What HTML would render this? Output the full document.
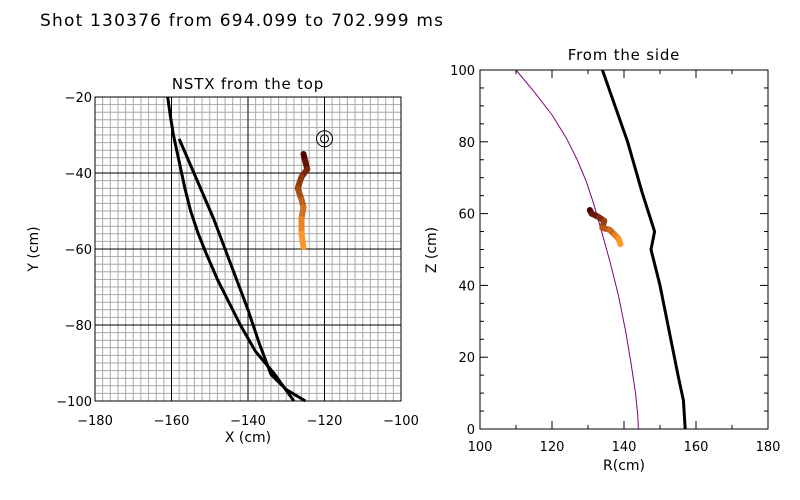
<!DOCTYPE html>
<html><head><meta charset="utf-8"><style>
body{margin:0;background:#fff;}
svg{display:block;font-family:"DejaVu Sans","Liberation Sans",sans-serif;}
</style></head><body>
<svg id="c" width="800" height="500" xmlns="http://www.w3.org/2000/svg">
<text x="40" y="26" font-size="17" letter-spacing="1.2" fill="#000">Shot 130376 from 694.099 to 702.999 ms</text>
</svg>
<script>
// Top view data
const topXTicks=[-180,-160,-140,-120,-100];
const topYTicks=[-20,-40,-60,-80,-100];
const wallAX=[-161,-160.3,-159.5,-158,-156.5,-155,-153,-151,-148,-145,-142,-138,-133,-128];
const wallAY=[-20,-25,-30,-37,-44,-50,-56,-61,-68,-74,-80,-87,-93,-100];
const wallBX=[-158,-155,-152,-149,-146,-143,-140,-137,-134,-130,-125];
const wallBY=[-31,-38,-45,-52,-60,-68,-76,-85,-93,-97,-100];
const trajTopX=[-125.5,-125,-124.5,-126,-127,-126,-125.5,-126,-126,-125.5];
const trajTopY=[-35,-37,-39,-41,-44,-47,-49,-52,-56,-59.5];
const targetX=[-120], targetY=[-31];
// Side view data
const sideXTicks=[100,120,140,160,180];
const sideYTicks=[0,20,40,60,80,100];
const sepR=[110,115,120,124,127,129.5,131.5,133.5,136,138.5,140.5,142,143.2,143.8,144];
const sepZ=[100,94,87.5,81,75,69,63,56,47,37,27,18,10,4,0];
const wallR=[134,141,145,148.5,147.5,150,153,155,156.5,157];
const wallZ=[100,80,66,55,50,40,25,15,8,0];
const trajSideR=[130.5,131,133,134.5,134,136,137.5,138.5,139];
const trajSideZ=[61,60,59,58,56,55.5,54,53,51.5];

const svg=document.getElementById('c');
const NS='http://www.w3.org/2000/svg';
function mk(tag,attrs,parent){const e=document.createElementNS(NS,tag);for(const k in attrs)e.setAttribute(k,attrs[k]);(parent||svg).appendChild(e);return e;}
function lerpColor(t){const a=[80,0,0],b=[255,150,40];return 'rgb('+a.map((v,i)=>Math.round(v+(b[i]-v)*t)).join(',')+')';}

// ---- Top panel ----
const L={x0:95,x1:401,y0:97,y1:401,xmin:-180,xmax:-100,ymin:-100,ymax:-20};
const tx=v=>L.x0+(v-L.xmin)/(L.xmax-L.xmin)*(L.x1-L.x0);
const ty=v=>L.y1-(v-L.ymin)/(L.ymax-L.ymin)*(L.y1-L.y0);
const gTop=mk('g',{});


for(let v=-180;v<=-100;v+=2){const l=mk('line',{x1:tx(v),x2:tx(v),y1:L.y0,y2:L.y1,stroke:'#aaa','stroke-width':1},gTop);}
for(let v=-100;v<=-20;v+=2){const l=mk('line',{y1:ty(v),y2:ty(v),x1:L.x0,x2:L.x1,stroke:'#aaa','stroke-width':1},gTop);}
topXTicks.forEach(v=>{const l=mk('line',{x1:tx(v),x2:tx(v),y1:L.y0,y2:L.y1,stroke:'#000','stroke-width':1},gTop);
 const t=mk('text',{x:tx(v),y:L.y1+24,'font-size':13,'text-anchor':'middle'},gTop);t.textContent=String(v).replace('-','\u2212');});
topYTicks.forEach(v=>{const l=mk('line',{y1:ty(v),y2:ty(v),x1:L.x0,x2:L.x1,stroke:'#000','stroke-width':1},gTop);
 const t=mk('text',{x:L.x0-3,y:ty(v)+5,'font-size':13,'text-anchor':'end'},gTop);t.textContent=String(v).replace('-','\u2212');});
const fr=mk('rect',{x:L.x0,y:L.y0,width:L.x1-L.x0,height:L.y1-L.y0,fill:'none',stroke:'#000'},gTop);
function poly(xs,ys,fx,fy,attrs,name,g){const p=mk('polyline',Object.assign({points:xs.map((x,i)=>fx(x)+','+fy(ys[i])).join(' '),fill:'none','stroke-linejoin':'round'},attrs),g);return p;}
poly(wallAX,wallAY,tx,ty,{stroke:'#000','stroke-width':3},'wall-outline-a',gTop);
poly(wallBX,wallBY,tx,ty,{stroke:'#000','stroke-width':3},'wall-outline-b',gTop);
for(let i=0;i<trajTopX.length-1;i++){const l=mk('line',{x1:tx(trajTopX[i]),y1:ty(trajTopY[i]),x2:tx(trajTopX[i+1]),y2:ty(trajTopY[i+1]),stroke:lerpColor(i/(trajTopX.length-2)),'stroke-width':6,'stroke-linecap':'round'},gTop);}
targetX.forEach((v,i)=>{const c1=mk('circle',{cx:tx(v),cy:ty(targetY[i]),r:8,fill:'none',stroke:'#000'},gTop);
const c2=mk('circle',{cx:tx(v),cy:ty(targetY[i]),r:4,fill:'none',stroke:'#000'},gTop);});
let t1=mk('text',{x:248,y:89,'font-size':15,'text-anchor':'middle','letter-spacing':0.8},gTop);t1.textContent='NSTX from the top';
let t2=mk('text',{x:248,y:442,'font-size':14,'text-anchor':'middle'},gTop);t2.textContent='X (cm)';
let t3=mk('text',{x:0,y:0,'font-size':14,'text-anchor':'middle',transform:'translate(38,249) rotate(-90)'},gTop);t3.textContent='Y (cm)';

// ---- Side panel ----
const R={x0:480,x1:768,y0:70,y1:429,xmin:100,xmax:180,ymin:0,ymax:100};
const sx=v=>R.x0+(v-R.xmin)/(R.xmax-R.xmin)*(R.x1-R.x0);
const sy=v=>R.y1-(v-R.ymin)/(R.ymax-R.ymin)*(R.y1-R.y0);
const gS=mk('g',{});


const fr2=mk('rect',{x:R.x0,y:R.y0,width:R.x1-R.x0,height:R.y1-R.y0,fill:'none',stroke:'#000'},gS);
for(let v=100;v<=180;v+=10){const len=(v%20===0)?8:4;[[R.y1,R.y1-len],[R.y0,R.y0+len]].forEach(p=>{const l=mk('line',{x1:sx(v),x2:sx(v),y1:p[0],y2:p[1],stroke:'#000'},gS);});}
for(let v=0;v<=100;v+=5){const len=(v%20===0)?8:4;[[R.x0,R.x0+len],[R.x1,R.x1-len]].forEach(p=>{const l=mk('line',{y1:sy(v),y2:sy(v),x1:p[0],x2:p[1],stroke:'#000'},gS);});}
sideXTicks.forEach(v=>{const t=mk('text',{x:sx(v),y:R.y1+22,'font-size':13,'text-anchor':'middle'},gS);t.textContent=v;});
sideYTicks.forEach(v=>{const t=mk('text',{x:R.x0-5,y:sy(v)+5,'font-size':13,'text-anchor':'end'},gS);t.textContent=v;});
poly(sepR,sepZ,sx,sy,{stroke:'#800080','stroke-width':1},'separatrix-curve',gS);
poly(wallR,wallZ,sx,sy,{stroke:'#000','stroke-width':3},'wall-profile',gS);
for(let i=0;i<trajSideR.length-1;i++){const l=mk('line',{x1:sx(trajSideR[i]),y1:sy(trajSideZ[i]),x2:sx(trajSideR[i+1]),y2:sy(trajSideZ[i+1]),stroke:lerpColor(i/(trajSideR.length-2)),'stroke-width':6,'stroke-linecap':'round'},gS);}
let s1=mk('text',{x:624,y:60,'font-size':15,'text-anchor':'middle','letter-spacing':0.8},gS);s1.textContent='From the side';
let s2=mk('text',{x:624,y:470,'font-size':14,'text-anchor':'middle'},gS);s2.textContent='R(cm)';
let s3=mk('text',{x:0,y:0,'font-size':14,'text-anchor':'middle',transform:'translate(436,250) rotate(-90)'},gS);s3.textContent='Z (cm)';
</script>
</body></html>
